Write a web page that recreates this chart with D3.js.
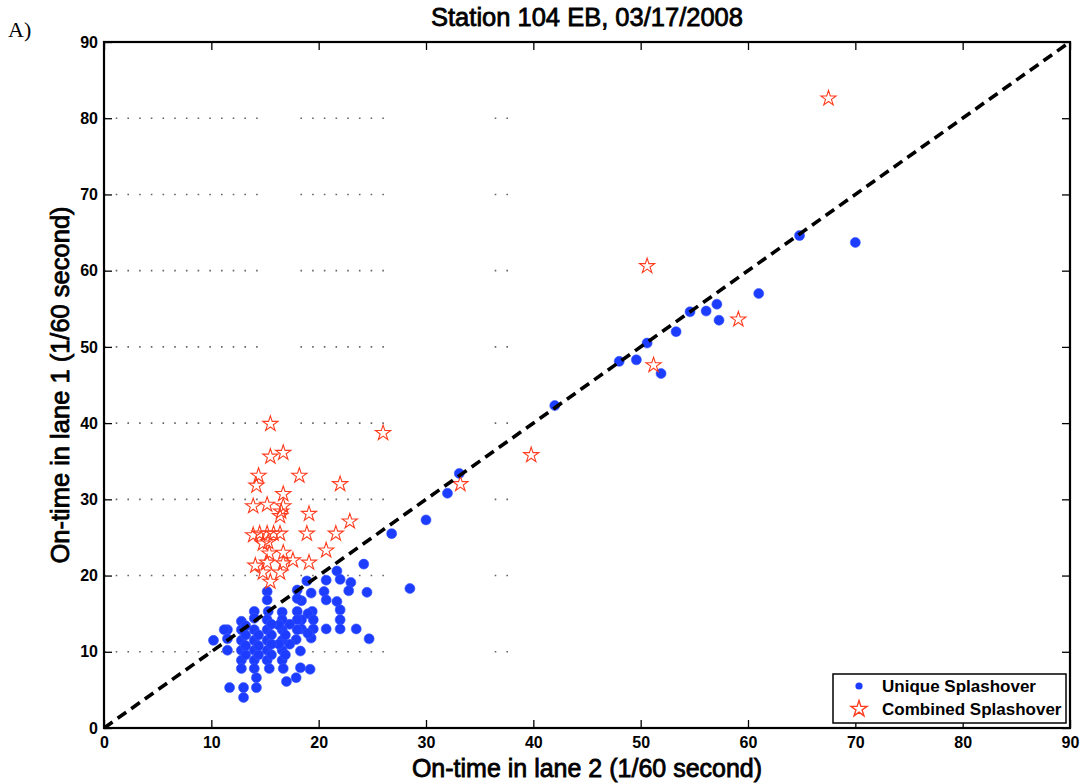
<!DOCTYPE html>
<html>
<head>
<meta charset="utf-8">
<script src="https://cdn.jsdelivr.net/npm/d3@7"></script>
<style>
  body { margin: 0; background: #fff; }
  text { font-family: "Liberation Sans", Arial, sans-serif; }
</style>
</head>
<body>
<svg id="grafico" width="1087" height="784"></svg>
<script>
// Datos: [tiempo en carril 2, tiempo en carril 1]
const uniqueSplashover = [
  [70.0, 63.7], [64.8, 64.6], [61.0, 57.0], [57.1, 55.6], [56.1, 54.7], [57.3, 53.5],
  [54.6, 54.6], [53.3, 52.0], [50.6, 50.5], [49.6, 48.3], [48.0, 48.1], [51.9, 46.5],
  [42.0, 42.3], [33.1, 33.4], [32.0, 30.8], [30.0, 27.3], [26.8, 25.5], [28.5, 18.3],
  [24.2, 21.5], [21.7, 20.6], [22.0, 19.5], [20.7, 19.4], [18.9, 19.3], [23.0, 19.1],
  [19.3, 17.7], [20.5, 17.9], [22.8, 18.0], [24.5, 17.8], [20.7, 16.8], [21.7, 16.6],
  [22.0, 15.5], [19.4, 15.3], [19.0, 15.0], [19.5, 14.2], [22.0, 14.2], [19.5, 13.0],
  [20.7, 13.0], [22.0, 13.0], [23.5, 13.0], [19.3, 11.8], [24.7, 11.7], [18.3, 10.1],
  [19.2, 7.7], [18.3, 7.9], [18.4, 16.7], [18.4, 14.2], [18.4, 13.0], [19.0, 12.4],
  [18.0, 18.1], [18.0, 17.0], [18.0, 15.3], [18.0, 14.2], [18.0, 12.9], [17.9, 11.6],
  [17.0, 6.1], [17.9, 6.6], [17.3, 13.6], [17.3, 11.0],
  [16.6, 15.2], [16.6, 14.2], [16.6, 12.9], [16.6, 11.5], [16.6, 10.2], [16.6, 8.9],
  [16.7, 7.8], [16.9, 12.2], [16.9, 9.6], [16.3, 13.5], [16.3, 11.0],
  [15.2, 17.9], [15.2, 16.8], [15.3, 15.3], [15.2, 14.2], [15.2, 12.9], [15.2, 11.5],
  [15.2, 10.2], [15.2, 8.9], [15.4, 7.8], [15.6, 13.6], [15.6, 12.2], [15.6, 11.0], [15.6, 9.6],
  [14.0, 15.3], [14.0, 14.4], [14.0, 12.9], [14.0, 11.5], [14.0, 10.2], [14.0, 8.9],
  [14.0, 7.8], [14.2, 6.6], [14.2, 5.3], [14.4, 12.2], [14.4, 9.6], [14.4, 10.8],
  [12.8, 14.0], [12.8, 12.9], [12.8, 11.5], [12.8, 10.2], [12.8, 8.9], [12.8, 7.8],
  [13.0, 5.3], [13.0, 4.0], [13.2, 12.2], [13.2, 9.6], [13.2, 10.8], [13.2, 13.4],
  [11.5, 12.9], [11.2, 12.9], [11.5, 11.7], [11.5, 10.2], [10.2, 11.5], [11.7, 5.3]
];

const combinedSplashover = [
  [67.5, 82.6], [50.6, 60.6], [59.1, 53.6], [51.2, 47.6], [39.8, 35.8], [33.2, 32.0], [26.0, 38.7],
  [15.5, 39.9], [15.5, 35.6], [16.7, 36.1], [14.4, 33.1], [14.2, 31.8], [18.2, 33.1], [22.0, 32.0],
  [16.7, 30.7], [16.7, 29.1], [13.9, 29.1], [15.2, 29.3], [16.4, 27.8], [16.5, 28.4], [19.1, 28.1],
  [22.9, 27.1], [13.9, 25.3], [14.5, 25.5], [15.2, 25.5], [15.8, 25.5], [16.4, 25.5], [18.9, 25.5],
  [21.6, 25.5], [14.8, 24.2], [15.3, 24.4], [15.4, 22.9], [16.7, 23.0], [17.6, 22.0], [20.7, 23.3],
  [14.1, 21.3], [15.2, 21.7], [16.7, 21.6], [19.1, 21.7], [14.8, 20.4], [16.4, 20.4], [15.5, 19.2]
];

const valoresTicks = [0, 10, 20, 30, 40, 50, 60, 70, 80, 90];
const nivelesRejilla = [10, 20, 30, 40, 50, 60, 70, 80];
const tramosRejilla = [[0, 14.8], [18.3, 26.2], [36.4, 37.8]];
const diagonal = [[0, 0], [90, 90]];

const margen = { top: 42, right: 17, bottom: 56, left: 104 };
const ancho = 1087, alto = 784;

const svg = d3.select("#grafico");

const x = d3.scaleLinear().domain([0, 90]).range([margen.left, ancho - margen.right]);
const y = d3.scaleLinear().domain([0, 90]).range([alto - margen.bottom, margen.top]);

// Rejilla punteada (sólo se ven algunos tramos en el original)
nivelesRejilla.forEach(nivel => {
  tramosRejilla.forEach(t => {
    svg.append("line")
      .attr("x1", x(t[0])).attr("x2", x(t[1]))
      .attr("y1", y(nivel)).attr("y2", y(nivel))
      .attr("stroke", "#666")
      .attr("stroke-width", 1.6)
      .attr("stroke-dasharray", "1.6,10.1");
  });
});

// Puntos azules
svg.append("g").selectAll("circle")
  .data(uniqueSplashover)
  .enter()
  .append("circle")
  .attr("cx", d => x(d[0]))
  .attr("cy", d => y(d[1]))
  .attr("r", 5)
  .attr("fill", "#1c3cff")
  .attr("stroke", "#3a58ff")
  .attr("stroke-width", 0.6);

// Estrellas rojas
const estrella = d3.symbol().type(d3.symbolStar).size(72);
svg.append("g").selectAll("path")
  .data(combinedSplashover)
  .enter()
  .append("path")
  .attr("d", estrella)
  .attr("transform", d => `translate(${x(d[0])},${y(d[1])})`)
  .attr("fill", "none")
  .attr("stroke", "#ff3c1e")
  .attr("stroke-width", 1.1);

// Línea 1:1 discontinua
svg.append("path")
  .datum(diagonal)
  .attr("d", d3.line().x(d => x(d[0])).y(d => y(d[1])))
  .attr("fill", "none")
  .attr("stroke", "#000")
  .attr("stroke-width", 3.6)
  .attr("stroke-dasharray", "10.5,6.2");

// Ejes con marcas hacia dentro
svg.append("g")
  .attr("transform", `translate(0,${y(0)})`)
  .call(d3.axisBottom(x).tickValues(valoresTicks).tickSizeInner(-8).tickSizeOuter(0).tickPadding(9));
svg.append("g")
  .attr("transform", `translate(${x(0)},0)`)
  .call(d3.axisLeft(y).tickValues(valoresTicks).tickSizeInner(-8).tickSizeOuter(0).tickPadding(6));
svg.append("g")
  .attr("transform", `translate(0,${y(90)})`)
  .call(d3.axisTop(x).tickValues(valoresTicks).tickSizeInner(-8).tickSizeOuter(0).tickFormat(""));
svg.append("g")
  .attr("transform", `translate(${x(90)},0)`)
  .call(d3.axisRight(y).tickValues(valoresTicks).tickSizeInner(-8).tickSizeOuter(0).tickFormat(""));

svg.selectAll(".domain").remove();
svg.selectAll(".tick line").attr("stroke", "#000").attr("stroke-width", 1.3);
svg.selectAll(".tick text")
  .attr("font-family", null)
  .style("font-size", "16px")
  .style("font-weight", "bold")
  .attr("fill", "#000");

// Marco
svg.append("rect")
  .attr("x", x(0)).attr("y", y(90))
  .attr("width", x(90) - x(0)).attr("height", y(0) - y(90))
  .attr("fill", "none")
  .attr("stroke", "#000")
  .attr("stroke-width", 2.2);

// Textos
svg.append("text")
  .attr("x", (x(0) + x(90)) / 2).attr("y", 26)
  .attr("text-anchor", "middle")
  .style("font-size", "25.5px")
  .attr("stroke", "#000").attr("stroke-width", 0.8)
  .text("Station 104 EB, 03/17/2008");

svg.append("text")
  .attr("x", (x(0) + x(90)) / 2).attr("y", 777)
  .attr("text-anchor", "middle")
  .style("font-size", "25px")
  .attr("stroke", "#000").attr("stroke-width", 0.8)
  .text("On-time in lane 2 (1/60 second)");

svg.append("text")
  .attr("transform", `translate(69,${(y(0) + y(90)) / 2}) rotate(-90)`)
  .attr("text-anchor", "middle")
  .style("font-size", "25.5px")
  .attr("stroke", "#000").attr("stroke-width", 0.8)
  .text("On-time in lane 1 (1/60 second)");

svg.append("text")
  .attr("x", 8).attr("y", 37)
  .style("font-family", "'Liberation Serif', 'Times New Roman', serif")
  .style("font-size", "22px")
  .text("A)");

// Leyenda
const leyenda = svg.append("g").attr("transform", "translate(833,674)");
leyenda.append("rect")
  .attr("width", 233).attr("height", 49)
  .attr("fill", "#fff")
  .attr("stroke", "#000")
  .attr("stroke-width", 1.5);

const elementos = ["Unique Splashover", "Combined Splashover"];
elementos.forEach((nombre, i) => {
  const fila = leyenda.append("g").attr("transform", `translate(0,${12 + i * 23})`);
  if (i === 0) {
    fila.append("circle").attr("cx", 26).attr("cy", 0).attr("r", 3.6).attr("fill", "#1c3cff");
  } else {
    fila.append("path").attr("d", d3.symbol().type(d3.symbolStar).size(80))
      .attr("transform", "translate(26,0)")
      .attr("fill", "none").attr("stroke", "#ff3c1e").attr("stroke-width", 1.4);
  }
  fila.append("text")
    .attr("x", 49).attr("y", 6)
    .style("font-size", "17px")
    .style("font-weight", "bold")
    .text(nombre);
});
</script>
</body>
</html>
